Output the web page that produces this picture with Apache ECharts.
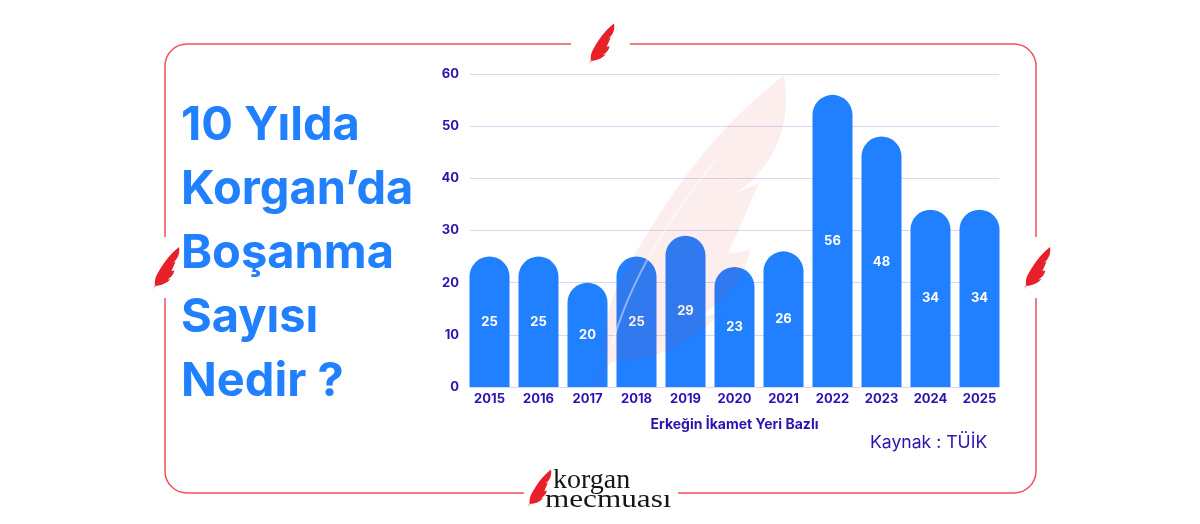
<!DOCTYPE html>
<html>
<head>
<meta charset="utf-8">
<style>
	html, body { margin: 0; padding: 0; background: #fff; }
	#chart { width: 1200px; height: 524px; }
</style>
</head>
<body>
<div id="chart"></div>
<script src="https://cdn.jsdelivr.net/npm/echarts@6/dist/echarts.min.js"></script>
<script>
	var years = ['2015', '2016', '2017', '2018', '2019', '2020', '2021', '2022', '2023', '2024', '2025'];
	var divorces = [25, 25, 20, 25, 29, 23, 26, 56, 48, 34, 34];
	var titleLines = ['10 Yılda', 'Korgan’da', 'Boşanma', 'Sayısı', 'Nedir ?'];

	var fontName = 'Inter';
	var indigo = '#2a13b0';
	var blue = '#2180ff';
	var red = '#f0525c';
	var gridColor = '#dcd6f5';

	// tuy, buyuk filigran koordinatlarinda
	var featherPath = 'M784 75C700 140 650 225 617 287C606 310 603 335 606 360L591 387L611 362' +
		'C650 362 692 345 722 312L698 318C725 300 745 280 750 250L728 254L759 183L736 193' +
		'C778 165 792 120 784 75Z';
	// cerceve, tuylerin oldugu yerlerde bosluklu
	var framePath = 'M571 44H187A22 22 0 0 0 165 66V237M165 298V471A22 22 0 0 0 187 493H524' +
		'M678 493H1014A22 22 0 0 0 1036 471V298M1036 237V66A22 22 0 0 0 1014 44H630';
	var quillPath = 'M716 160C670 215 630 280 612 345';

	echarts.graphic.registerShape('feather', echarts.graphic.extendPath(featherPath, {}));
	echarts.graphic.registerShape('frame', echarts.graphic.extendPath(framePath, {}));
	echarts.graphic.registerShape('quill', echarts.graphic.extendPath(quillPath, {}));

	function feather(tipX, bottomY, scale, fill, z) {
		return {
			type: 'feather',
			x: tipX - 784 * scale,
			y: bottomY - 387 * scale,
			scaleX: scale,
			scaleY: scale,
			z: z,
			style: { fill: fill }
		};
	}

	function logoText(text, x, y, size, stretch) {
		return {
			type: 'text',
			x: x,
			y: y,
			scaleX: stretch,
			z: 12,
			style: {
				text: text,
				fill: '#161616',
				font: '400 ' + size + 'px "Liberation Serif"',
				verticalAlign: 'middle'
			}
		};
	}

	var myChart = echarts.init(document.getElementById('chart'));
	var option = {
		animation: false,
		backgroundColor: '#fff',
		title: {
			text: titleLines.join('\n'),
			left: 176,
			top: 89,
			textStyle: {
				color: blue,
				fontFamily: fontName,
				fontWeight: 700,
				fontSize: 47,
				lineHeight: 64
			}
		},
		// grid 0 kilavuz cizgileri, grid 1 cubuklar (cubuklar cizgilerin ucuna kadar gidiyor)
		grid: [
			{ left: 470, right: 201, top: 74, bottom: 137 },
			{ left: 465, right: 196, top: 74, bottom: 137 }
		],
		xAxis: [
			{
				type: 'category',
				gridIndex: 0,
				data: years,
				axisLine: { lineStyle: { color: gridColor } },
				axisTick: { show: false },
				axisLabel: { show: false }
			},
			{
				type: 'category',
				gridIndex: 1,
				data: years,
				name: 'Erkeğin İkamet Yeri Bazlı',
				nameLocation: 'middle',
				nameGap: 31,
				nameTextStyle: {
					color: indigo,
					fontFamily: fontName,
					fontWeight: 700,
					fontSize: 14
				},
				axisLine: { show: false },
				axisTick: { show: false },
				axisLabel: {
					color: indigo,
					fontFamily: fontName,
					fontWeight: 700,
					fontSize: 13,
					margin: 6,
					interval: 0
				}
			}
		],
		yAxis: [
			{
				type: 'value',
				gridIndex: 0,
				min: 0,
				max: 60,
				interval: 10,
				axisLabel: {
					color: indigo,
					fontFamily: fontName,
					fontWeight: 700,
					fontSize: 13,
					margin: 11,
					padding: [3, 0, 0, 0]
				},
				splitLine: { lineStyle: { color: gridColor } }
			},
			{
				type: 'value',
				gridIndex: 1,
				min: 0,
				max: 60,
				interval: 10,
				axisLabel: { show: false },
				splitLine: { show: false }
			}
		],
		series: [{
			type: 'bar',
			xAxisIndex: 1,
			yAxisIndex: 1,
			data: divorces,
			barWidth: 40,
			itemStyle: {
				color: blue,
				borderRadius: [20, 20, 0, 0]
			},
			label: {
				show: true,
				position: 'inside',
				color: '#fff',
				fontFamily: fontName,
				fontWeight: 700,
				fontSize: 13
			}
		}],
		graphic: [
			{
				type: 'frame',
				style: { fill: null, stroke: red, lineWidth: 1.5 }
			},
			feather(784, 387, 1, 'rgba(225,40,40,0.08)', 10),
			{
				type: 'quill',
				z: 11,
				style: { fill: null, stroke: 'rgba(255,255,255,0.45)', lineWidth: 2 }
			},
			feather(614, 64, 0.13, '#e8202a', 12),
			feather(179, 289, 0.135, '#e8202a', 12),
			feather(1050, 289, 0.135, '#e8202a', 12),
			feather(551, 507, 0.12, '#e8202a', 12),
			logoText('korgan', 553, 481, 28, 1),
			logoText('mecmuası', 545, 500, 26, 1.2),
			{
				type: 'text',
				x: 870,
				y: 443,
				z: 12,
				style: {
					text: 'Kaynak : TÜİK',
					fill: indigo,
					font: '400 17.6px ' + fontName,
					verticalAlign: 'middle'
				}
			}
		]
	};
	myChart.setOption(option);
</script>
</body>
</html>
